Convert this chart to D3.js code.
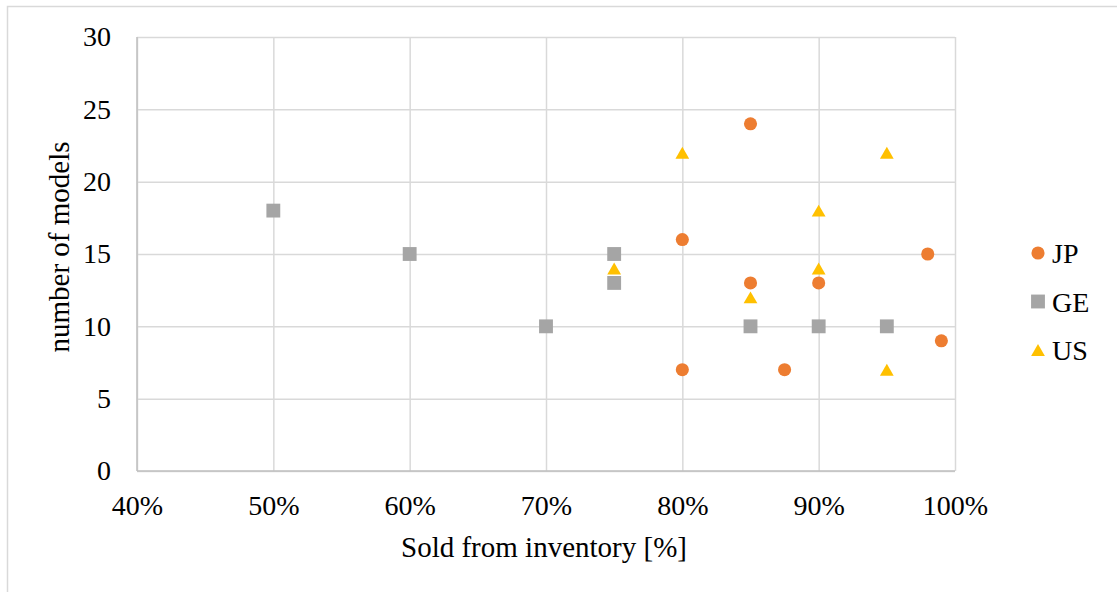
<!DOCTYPE html>
<html>
<head>
<meta charset="utf-8">
<script src="https://cdn.jsdelivr.net/npm/d3@7"></script>
<style>
  html, body { margin: 0; padding: 0; background: #fff; }
  svg { display: block; font-family: "Liberation Serif", "Times New Roman", serif; }
</style>
</head>
<body>
<svg id="chart" width="1117" height="592"></svg>
<script>
// Share of units sold from inventory vs. number of models, by country
const jpX = [0.85, 0.80, 0.85, 0.90, 0.98, 0.99, 0.80, 0.875];
const jpY = [24, 16, 13, 13, 15, 9, 7, 7];
const geX = [0.50, 0.60, 0.70, 0.75, 0.75, 0.85, 0.90, 0.95];
const geY = [18, 15, 10, 15, 13, 10, 10, 10];
const usX = [0.80, 0.95, 0.90, 0.75, 0.90, 0.85, 0.95];
const usY = [22, 22, 18, 14, 14, 12, 7];
const xTicks = [0.4, 0.5, 0.6, 0.7, 0.8, 0.9, 1.0];
const yTicks = [0, 5, 10, 15, 20, 25, 30];

// Triangle: nudge down so its bounding box (not its centroid) sits on the value
const TRI_SIZE = 82;
const triShift = Math.sqrt(TRI_SIZE / (Math.sqrt(3) * 3)) / 2;

const series = [
  { name: "JP", xs: jpX, ys: jpY, color: "#ED7D31", symbol: d3.symbolCircle, size: 135, dy: 0 },
  { name: "GE", xs: geX, ys: geY, color: "#A5A5A5", symbol: d3.symbolSquare, size: 192, dy: 0 },
  { name: "US", xs: usX, ys: usY, color: "#FFC000", symbol: d3.symbolTriangle, size: TRI_SIZE, dy: triShift }
];

const TICK_FONT = 28;
const TITLE_FONT = 29;
const svg = d3.select("#chart");
const plot = { left: 137, right: 955, top: 37, bottom: 471 };

// Outer chart frame
svg.append("rect")
  .attr("x", 7.5).attr("y", 6.5)
  .attr("width", 1130).attr("height", 600)
  .attr("fill", "#fff").attr("stroke", "#d9d9d9").attr("stroke-width", 1.5);

const x = d3.scaleLinear().domain([0.4, 1.0]).range([plot.left, plot.right]);
const y = d3.scaleLinear().domain([0, 30]).range([plot.bottom, plot.top]);

// Vertical gridlines
svg.append("g")
  .attr("transform", `translate(0,${plot.bottom})`)
  .call(d3.axisBottom(x).tickValues(xTicks).tickSize(-(plot.bottom - plot.top)).tickFormat(""))
  .call(g => g.select(".domain").remove())
  .call(g => g.selectAll("line").attr("stroke", "#d9d9d9").attr("stroke-width", 1.5));

// Horizontal gridlines
svg.append("g")
  .attr("transform", `translate(${plot.left},0)`)
  .call(d3.axisLeft(y).tickValues(yTicks).tickSize(-(plot.right - plot.left)).tickFormat(""))
  .call(g => g.select(".domain").remove())
  .call(g => g.selectAll("line").attr("stroke", "#d9d9d9").attr("stroke-width", 1.5));

// Axis lines
svg.append("line")
  .attr("x1", plot.left).attr("x2", plot.right)
  .attr("y1", plot.bottom).attr("y2", plot.bottom)
  .attr("stroke", "#bfbfbf").attr("stroke-width", 1.5);
svg.append("line")
  .attr("x1", plot.left).attr("x2", plot.left)
  .attr("y1", plot.top).attr("y2", plot.bottom)
  .attr("stroke", "#bfbfbf").attr("stroke-width", 1.5);

// Tick labels
const xAxis = svg.append("g")
  .attr("transform", `translate(0,${plot.bottom})`)
  .call(d3.axisBottom(x).tickValues(xTicks).tickSize(0).tickPadding(24).tickFormat(d3.format(".0%")));
xAxis.select(".domain").remove();
xAxis.selectAll("text").attr("font-family", "Liberation Serif").attr("font-size", TICK_FONT).attr("fill", "#000");

const yAxis = svg.append("g")
  .attr("transform", `translate(${plot.left},0)`)
  .call(d3.axisLeft(y).tickValues(yTicks).tickSize(0).tickPadding(26));
yAxis.select(".domain").remove();
yAxis.selectAll("text").attr("font-family", "Liberation Serif").attr("font-size", TICK_FONT).attr("fill", "#000");

// Axis titles
svg.append("text")
  .attr("x", 544).attr("y", 557)
  .attr("text-anchor", "middle")
  .attr("font-size", TITLE_FONT).attr("fill", "#000")
  .text("Sold from inventory [%]");

svg.append("text")
  .attr("transform", "translate(69,247) rotate(-90)")
  .attr("text-anchor", "middle")
  .attr("font-size", TITLE_FONT).attr("fill", "#000")
  .text("number of models");

// Data markers
series.forEach(s => {
  const sym = d3.symbol().type(s.symbol).size(s.size);
  svg.append("g").selectAll("path")
    .data(s.xs.map((v, i) => [v, s.ys[i]]))
    .join("path")
    .attr("transform", d => `translate(${x(d[0])},${y(d[1]) + s.dy})`)
    .attr("d", sym)
    .attr("fill", s.color);
});

// Legend
const legend = svg.append("g").attr("transform", "translate(1038,253)");
series.forEach((s, i) => {
  const row = legend.append("g").attr("transform", `translate(0,${i * 48.5})`);
  row.append("path")
    .attr("transform", `translate(0,${s.dy})`)
    .attr("d", d3.symbol().type(s.symbol).size(s.size)())
    .attr("fill", s.color);
  row.append("text")
    .attr("x", 14).attr("y", 10)
    .attr("font-size", TICK_FONT).attr("fill", "#000")
    .text(s.name);
});
</script>
</body>
</html>
